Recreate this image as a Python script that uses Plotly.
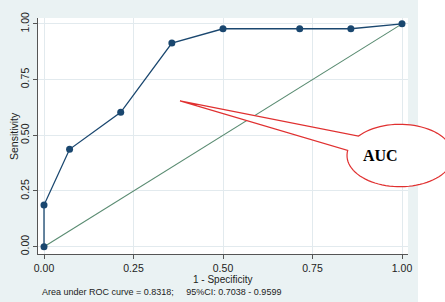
import numpy as np
import plotly.graph_objects as go

# ROC data
fpr = [0.0, 0.0, 1/14, 3/14, 5/14, 7/14, 10/14, 12/14, 1.0]
sens = [0.0, 0.187, 0.437, 0.603, 0.914, 0.978, 0.978, 0.978, 1.0]
ref_x = [0.0, 1.0]
ref_y = [0.0, 1.0]
tick_vals = [0, 0.25, 0.5, 0.75, 1.0]
tick_text = ["0.00", "0.25", "0.50", "0.75", "1.00"]
x_title = "1 - Specificity"
y_title = "Sensitivity"
note = "Area under ROC curve = 0.8318;     95%CI: 0.7038 - 0.9599"
callout_text = "AUC"

W, H = 445, 302
L, R, T, B = 38, 37, 12, 48
BG = "#eaf2f3"
NAVY = "#1a476f"
FONT = "Liberation Sans"

fig = go.Figure()
fig.add_trace(go.Scatter(x=ref_x, y=ref_y, mode="lines",
                         line=dict(color="#5a8c72", width=1.1), hoverinfo="skip"))
fig.add_trace(go.Scatter(x=fpr, y=sens, mode="lines+markers",
                         line=dict(color=NAVY, width=1.3),
                         marker=dict(color=NAVY, size=7)))

def px2paper(x, y):
    return (x - L) / (W - L - R), (H - B - y) / (H - T - B)

# background graph region (white beyond right edge)
x0, _ = px2paper(418, 0)
x1, _ = px2paper(460, 0)
fig.add_shape(type="rect", xref="paper", yref="paper", x0=x0, x1=x1, y0=-1, y1=2,
              fillcolor="white", line=dict(width=0), layer="below")

# callout ellipse with tail
cx, cy, rx, ry = 400, 153, 53, 32
tip = (180, 97)
a0, a1 = np.deg2rad(218.4), np.deg2rad(549.4)
ang = np.linspace(a0, a1, 80)
pts = [tip] + [(cx + rx * np.cos(a), cy + ry * np.sin(a)) for a in ang] + [tip]
path = ""
for i, (px, py) in enumerate(pts):
    u, v = px2paper(px, py)
    path += ("M" if i == 0 else "L") + f"{u:.4f},{v:.4f} "
path += "Z"
fig.add_shape(type="path", xref="paper", yref="paper", path=path,
              fillcolor="white", line=dict(color="#e03030", width=1.2))
u, v = px2paper(400, 153)
fig.add_annotation(xref="paper", yref="paper", x=u, y=v, text="<b>%s</b>" % callout_text,
                   showarrow=False, font=dict(family="Liberation Serif", size=16, color="black"))

u, v = px2paper(222, 280)
fig.add_annotation(xref="paper", yref="paper", x=u, y=v, xanchor="center", yanchor="middle",
                   text=x_title, showarrow=False,
                   font=dict(family=FONT, size=10, color="#222"))
u, v = px2paper(14, 133)
fig.add_annotation(xref="paper", yref="paper", x=u, y=v, xanchor="center", yanchor="middle",
                   text=y_title, showarrow=False, textangle=-90,
                   font=dict(family=FONT, size=10.5, color="#222"))
u, v = px2paper(40, 292.5)
fig.add_annotation(xref="paper", yref="paper", x=u, y=v, xanchor="left", yanchor="middle",
                   text=note, showarrow=False,
                   font=dict(family=FONT, size=9, color="#222"))

axis_common = dict(tickvals=tick_vals, ticktext=tick_text, showgrid=True,
                   gridcolor="#e2eaee", gridwidth=1, zeroline=False,
                   showline=True, linecolor="#555", linewidth=1.2,
                   ticks="outside", ticklen=4, tickcolor="#555",
                   tickfont=dict(family=FONT, size=10.5, color="#222"))

fig.update_layout(
    width=W, height=H, margin=dict(l=L, r=R, t=T, b=B),
    paper_bgcolor=BG, plot_bgcolor="white", showlegend=False,
    xaxis=dict(range=[-6/358, 1 + 6/358], **axis_common),
    yaxis=dict(range=[-7.5/228.5, 1 + 6/228.5], tickangle=-90, **axis_common),
)
fig.write_html("out.html")
